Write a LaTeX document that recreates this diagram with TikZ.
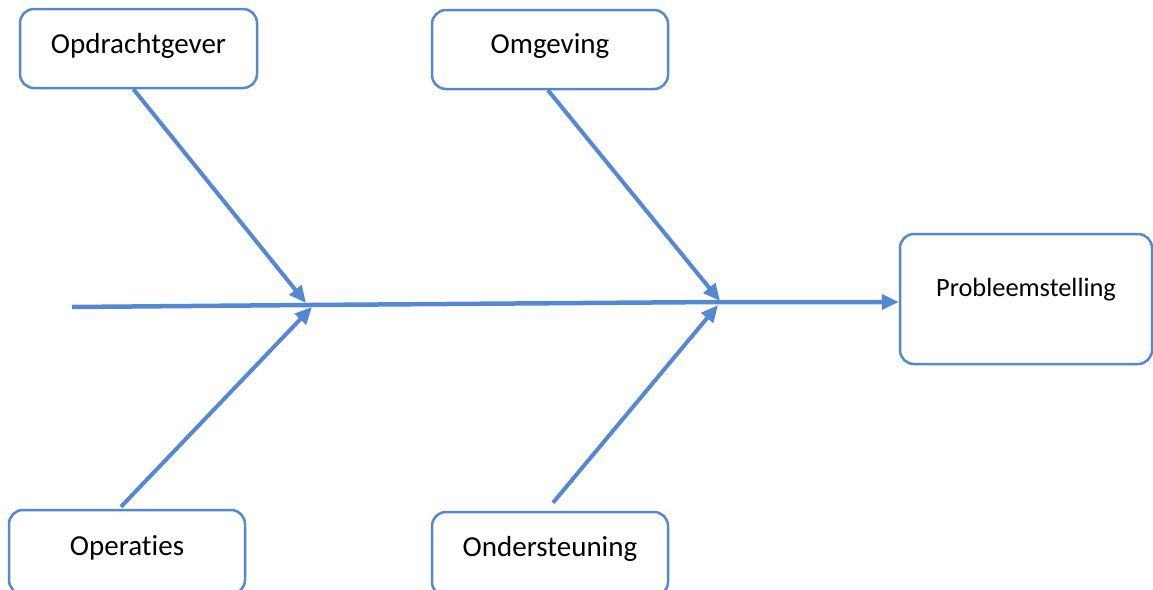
\documentclass[tikz,border=0pt]{standalone}
\usepackage{fontspec}
\setmainfont[Ligatures=NoCommon]{Carlito}
\usetikzlibrary{arrows.meta}
\definecolor{fishblue}{RGB}{84,136,210}
\begin{document}
\begin{tikzpicture}[x=1pt,y=-1pt,
  causebox/.style={draw=fishblue, line width=2.5pt, rounded corners=14pt, fill=white,
    minimum width=237pt, minimum height=79pt, inner sep=0pt,
    font=\fontsize{29}{34}\selectfont, text depth=0pt},
  bone/.style={draw=fishblue, line width=4pt, -{Triangle[length=17pt,width=15pt]}},
  spine/.style={draw=fishblue, line width=4.5pt, -{Triangle[length=17pt,width=15pt]}}]
\clip (0,0) rectangle (1153,589);
\fill[white] (0,0) rectangle (1153,589);
% boxes
\node[causebox, text height=9.7pt] (opd) at (138.5,48.5) {Opdrachtgever};
\node[causebox, text height=8.7pt, minimum width=236pt] (omg) at (550,49.5) {Omgeving};
\node[causebox, text height=6.7pt, minimum width=236pt, minimum height=84pt] (ope) at (127,552) {Operaties};
\node[causebox, text height=4.7pt, minimum width=236pt, minimum height=84pt] (ond) at (550,554) {Ondersteuning};
\node[causebox, minimum width=252pt, minimum height=130pt,
      font=\fontsize{26.4}{31}\selectfont, text height=0pt, text depth=5pt] (prob) at (1026,299) {Probleemstelling};
% spine
\coordinate (tail) at (72,307);
\coordinate (j1) at (309,305);
\coordinate (j2) at (719,302);
\draw[spine] (tail) -- (j1) -- (j2) -- (prob.west |- j2);
% bones
\coordinate (e1) at (306,303);
\coordinate (e2) at (312,307);
\coordinate (e3) at (720,301);
\coordinate (e4) at (718,305);
\draw[bone] ([xshift=-5pt]opd.south) -- (e1);
\draw[bone] ([xshift=-6pt,yshift=2pt]ope.north) -- (e2);
\draw[bone] ([xshift=-2pt]omg.south) -- (e3);
\draw[bone] ([xshift=3pt,yshift=8pt]ond.north) -- (e4);
\end{tikzpicture}
\end{document}
